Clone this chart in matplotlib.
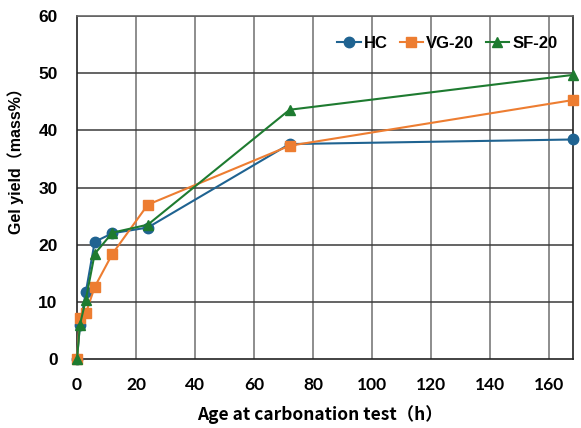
import matplotlib
matplotlib.use("Agg")
import matplotlib.pyplot as plt

# Datos
edad = [0, 1, 3, 6, 12, 24, 72, 168]
hc = [0, 5.9, 11.7, 20.5, 22.0, 23.0, 37.6, 38.4]
vg20 = [0, 7.2, 8.0, 12.6, 18.4, 27.0, 37.3, 45.3]
sf20 = [0, 6.0, 10.4, 18.4, 22.1, 23.5, 43.6, 49.7]

x_ticks = [0, 20, 40, 60, 80, 100, 120, 140, 160]
y_ticks = [0, 10, 20, 30, 40, 50, 60]

fuente = ['Liberation Sans', 'Noto Sans CJK SC', 'DejaVu Sans']
plt.rcParams['font.family'] = fuente

fig = plt.figure(figsize=(5.81, 4.28), dpi=100)
ax = fig.add_axes([0.1325, 0.1612, 0.8537, 0.8014])

ax.plot(edad, hc, '-o', color='#1F6391', lw=1.5, ms=7.5, label='HC', zorder=3, clip_on=False)
ax.plot(edad, vg20, '-s', color='#ED7D31', lw=1.5, ms=7, label='VG-20', zorder=3, clip_on=False)
ax.plot(edad, sf20, '-^', color='#1E7B30', lw=1.5, ms=7.5, label='SF-20', zorder=3, clip_on=False)

ax.set_xlim(0, 168)
ax.set_ylim(0, 60)
ax.set_xticks(x_ticks)
ax.set_yticks(y_ticks)

for x in x_ticks[1:]:
    ax.axvline(x, color='#858585', lw=1.3, zorder=1)
for y in y_ticks[1:]:
    ax.axhline(y, color='#3a3a3a', lw=1.1, zorder=1)

for s in ['left', 'bottom', 'right']:
    ax.spines[s].set_color('#222222')
    ax.spines[s].set_linewidth(1.2)
ax.spines['top'].set_color('#666666')
ax.spines['top'].set_linewidth(1.2)

ax.tick_params(length=0)
ax.tick_params(axis='x', pad=13)
ax.tick_params(axis='y', pad=14)
for t in ax.get_xticklabels():
    t.set_fontweight('bold')
    t.set_fontfamily(['Lato', 'DejaVu Sans'])
    t.set_fontsize(12.5)
for t in ax.get_yticklabels():
    t.set_fontweight('bold')
    t.set_fontsize(12.5)

ax.set_xlabel('Age at carbonation test（h）', fontsize=12.5, fontweight='bold',
              family=['Noto Sans CJK JP', 'DejaVu Sans'])
ax.xaxis.set_label_coords(0.49, -0.135)
ax.set_ylabel('Gel yield（mass%）', fontsize=11.5, fontweight='bold')
ax.yaxis.set_label_coords(-0.107, 0.589)

ax.legend(loc='center left', bbox_to_anchor=(0.525, 0.921), ncol=3, frameon=False,
          borderpad=0, borderaxespad=0,
          handlelength=1.4, handletextpad=0.2, columnspacing=0.7,
          prop={'family': fuente, 'weight': 'bold', 'size': 12})

fig.savefig('out.png', dpi=100)
